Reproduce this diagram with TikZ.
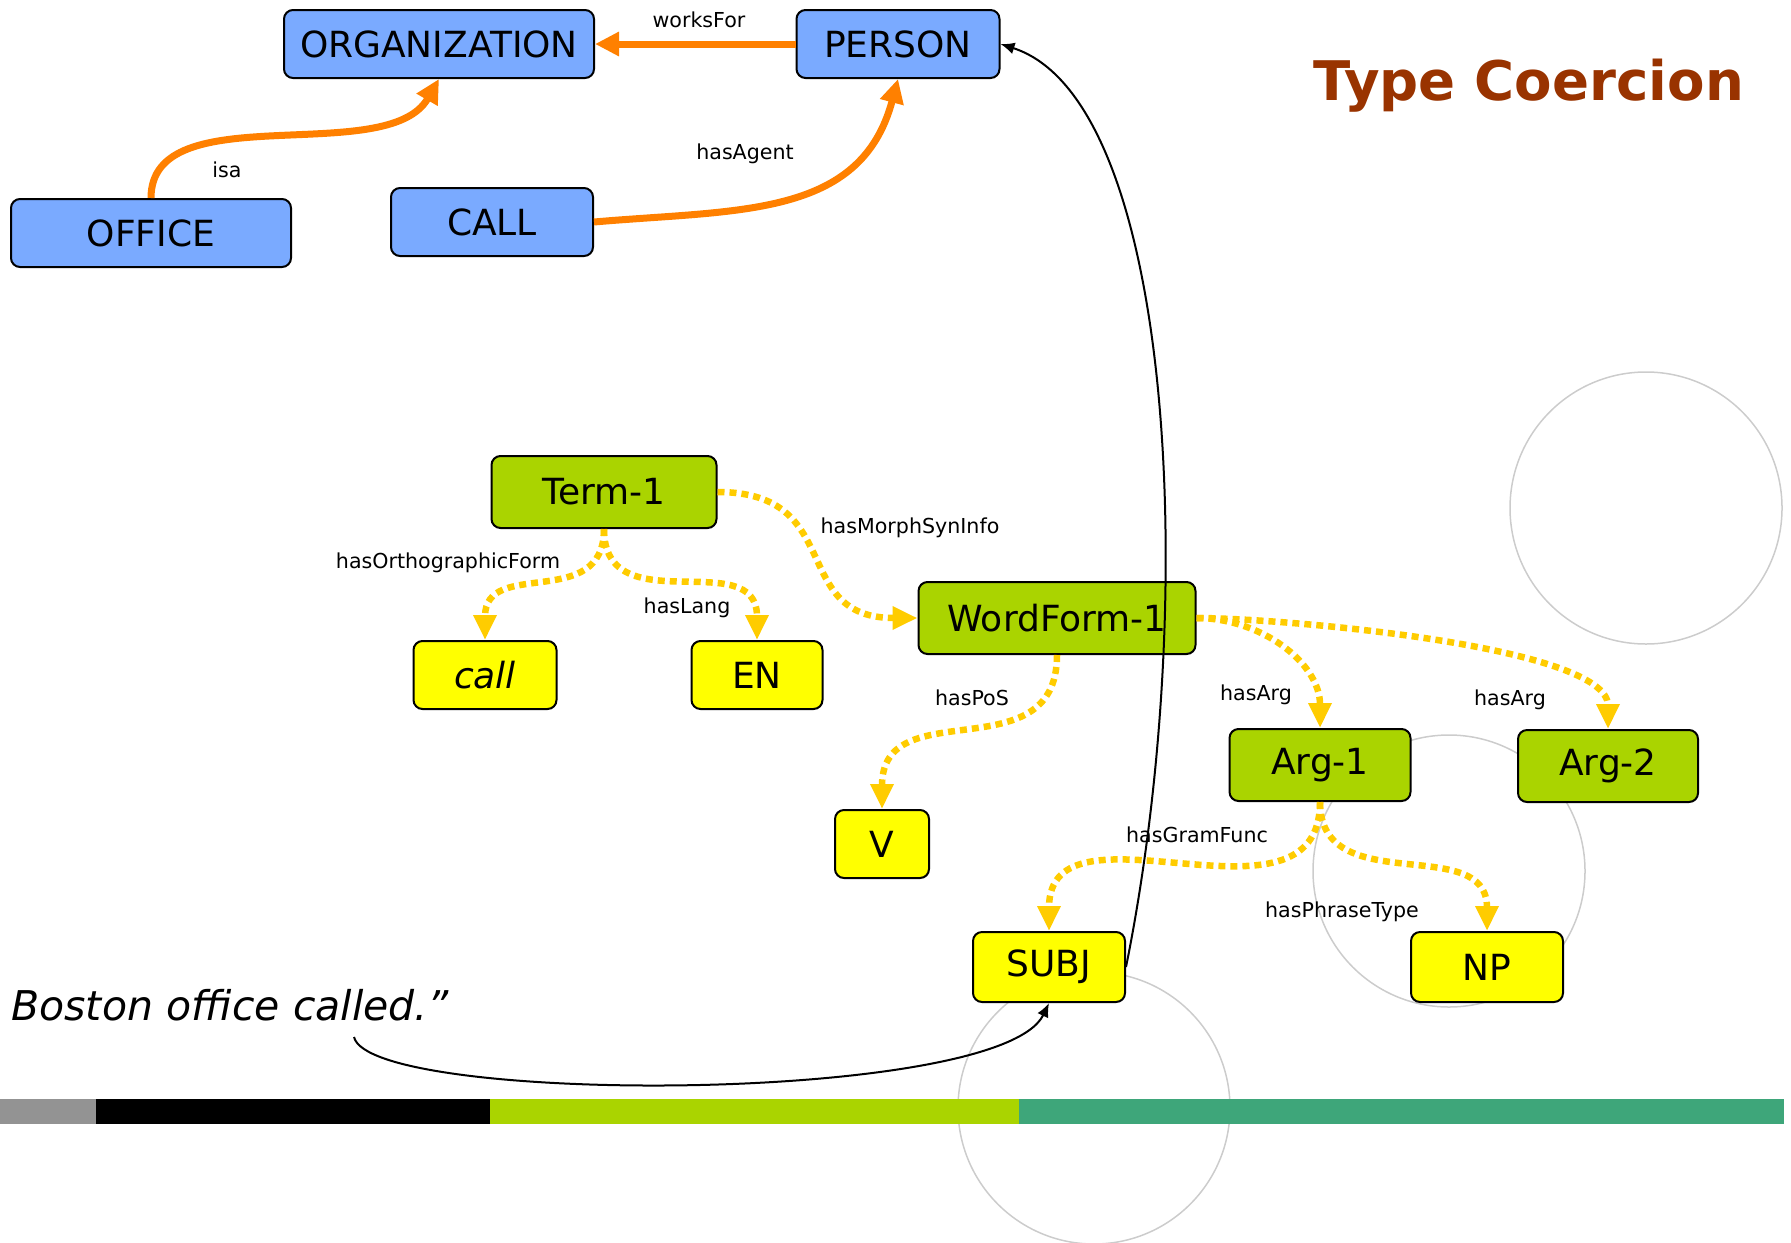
\documentclass[tikz,border=0pt]{standalone}
\usepackage{fontspec}
\setmainfont{DejaVu Sans}
\usetikzlibrary{arrows.meta}

\definecolor{conceptblue}{RGB}{122,170,255}
\definecolor{termgreen}{RGB}{170,212,0}
\definecolor{valueyellow}{RGB}{255,255,0}
\definecolor{relorange}{RGB}{255,128,0}
\definecolor{linkyellow}{RGB}{255,204,0}
\definecolor{titlebrown}{RGB}{153,51,0}
\definecolor{barteal}{RGB}{62,166,122}
\definecolor{bargray}{RGB}{147,147,147}

\tikzset{
  box/.style={draw, line width=1pt, rounded corners=4.5pt, inner sep=0pt,
    minimum height=34pt, font=\fontsize{18}{20}\selectfont},
  concept/.style={box, fill=conceptblue},
  term/.style={box, fill=termgreen, minimum height=36pt},
  value/.style={box, fill=valueyellow},
  rel/.style={draw=relorange, line width=3.5pt,
    -{Triangle[length=12pt,width=11.5pt,fill=relorange]}},
  link/.style={draw=linkyellow, line width=3.25pt, dash pattern=on 3.5pt off 2.5pt,
    -{Triangle[length=12.5pt,width=11pt,fill=linkyellow]}},
  pointer/.style={draw, line width=1pt, -{Latex[length=7pt,width=6pt]}},
  ring/.style={draw=black!20, line width=0.75pt},
  lbl/.style={font=\fontsize{10.3}{12}\selectfont, inner sep=0pt},
}

\begin{document}
\begin{tikzpicture}[x=0.5pt,y=0.5pt]
        \useasboundingbox (0,0) rectangle (1791,-1242);

        % faint circles behind everything
        \draw[ring] (1646,-508) circle (136);
        \draw[ring] (1449,-871) circle (136);
        \draw[ring] (1094,-1108) circle (136);

        % colour bar
        \fill[bargray]    (0,-1099)    rectangle (96,-1124);
        \fill[black]      (96,-1099)   rectangle (490,-1124);
        \fill[termgreen]  (490,-1099)  rectangle (1019,-1124);
        \fill[barteal]    (1019,-1099) rectangle (1784,-1124);

        \node[anchor=base west, inner sep=0pt, text=titlebrown,
          font=\bfseries\fontsize{27.3}{30}\selectfont] (title) at (1313,-100) {Type Coercion};
        \node[anchor=base west, inner sep=0pt,
          font=\itshape\fontsize{20.5}{24}\selectfont] (quote) at (11,-1020) {Boston office called.”};
        \coordinate (tail) at (354,-1037);

        \begin{scope}[every node/.style={concept}]
          \node[minimum width=155pt]   (org)    at (439,-44)  {ORGANIZATION};
          \node[minimum width=101.5pt] (person) at (898,-44)  {PERSON};
          \node[minimum width=140pt]   (office) at (151,-233) {OFFICE};
          \node[minimum width=101pt]   (call)   at (492,-222) {CALL};
        \end{scope}

        \begin{scope}[every node/.style={term}]
          \node[minimum width=112.5pt] (term)     at (604,-492)  {Term-1};
          \node[minimum width=138.5pt] (wordform) at (1057,-618) {WordForm-1};
          \node[minimum width=90.5pt]  (arg1)     at (1320,-765) {Arg-1};
          \node[minimum width=90pt]    (arg2)     at (1608,-766) {Arg-2};
        \end{scope}

        \begin{scope}[every node/.style={value}]
          \node[minimum width=71.5pt] (form) at (485,-675) {\itshape call};
          \node[minimum width=65.5pt] (lang) at (757,-675) {EN};
          \node[minimum width=47pt]   (pos)  at (882,-844) {V};
          \node[minimum width=76pt, minimum height=35pt] (subj) at (1049,-967) {SUBJ};
          \node[minimum width=76pt, minimum height=35pt] (np)   at (1487,-967) {NP};
        \end{scope}

        % ontology relations
        \path (person.west) edge[rel] (org.east);
        \path (office.north) edge[rel, out=90, in=-120, looseness=0.85] (org.south);
        \path (call.east) edge[rel, out=5, in=-105, looseness=1.1] (person.south);

        % lexicon links
        \begin{scope}[every edge/.style={link}]
          \path (term.east)     edge[out=0, in=180, looseness=1.4] (wordform.west);
          \path (term.south)    edge[out=-90, in=90, looseness=1.3] (form.north);
          \path (term.south)    edge[out=-90, in=90, looseness=1.3] (lang.north);
          \path (wordform.south) edge[out=-90, in=90, looseness=1.3] (pos.north);
          \path (wordform.east) edge[out=0, in=90] (arg1.north);
          \path (wordform.east) edge[out=0, in=90, looseness=0.5] (arg2.north);
          \path (arg1.south)    edge[out=-90, in=90, looseness=1.2] (subj.north);
          \path (arg1.south)    edge[out=-90, in=90, looseness=1.2] (np.north);
        \end{scope}

        \begin{scope}[every node/.style={lbl}]
          \node (l-works)  at (699,-20)   {worksFor};
          \node (l-isa)    at (227,-170)  {isa};
          \node (l-agent)  at (745,-154)  {hasAgent};
          \node (l-morph)  at (910,-528)  {hasMorphSynInfo};
          \node (l-ortho)  at (448,-563)  {hasOrthographicForm};
          \node (l-lang)   at (687,-608)  {hasLang};
          \node (l-pos)    at (972,-698)  {hasPoS};
          \node (l-arg1)   at (1256,-695) {hasArg};
          \node (l-arg2)   at (1510,-700) {hasArg};
          \node (l-gram)   at (1197,-835) {hasGramFunc};
          \node (l-phrase) at (1342,-912) {hasPhraseType};
        \end{scope}

        % coercion pointers
        \draw[pointer] (subj.east) .. controls (1200,-600) and (1175,-100) .. (person.east);
        \draw[pointer] (tail) .. controls (370,-1105) and (1000,-1105) .. (subj.south);

      \end{tikzpicture}
\end{document}
